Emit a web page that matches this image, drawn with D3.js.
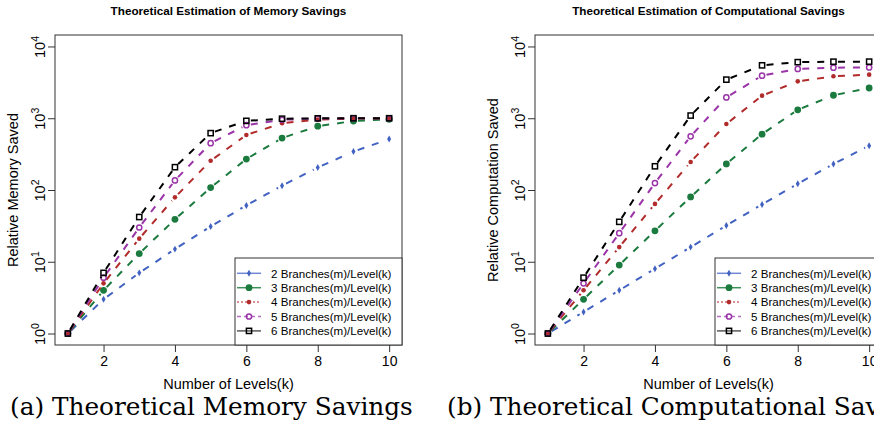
<!DOCTYPE html>
<html>
<head>
<meta charset="utf-8">
<script src="https://cdn.jsdelivr.net/npm/d3@7"></script>
<style>
  html, body { margin: 0; padding: 0; background: #ffffff; }
  svg { display: block; }
  text { font-family: "Liberation Sans", Arial, Helvetica, sans-serif; fill: #000; }
</style>
</head>
<body>
<svg id="chart" width="874" height="444"></svg>
<script>
// Number of levels k on the x axis
const levels = [1, 2, 3, 4, 5, 6, 7, 8, 9, 10];

// Relative memory saved, one array per branching factor m
const memSaved_m2 = [1, 3, 7, 15, 31, 61, 115, 206, 343, 512];
const memSaved_m3 = [1, 4, 13, 39, 108, 270, 530, 775, 915, 968];
const memSaved_m4 = [1, 5, 21, 79, 256, 585, 852, 956, 988, 997];
const memSaved_m5 = [1, 6, 30, 136, 450, 800, 952, 990, 998, 1000];
const memSaved_m6 = [1, 7, 42, 208, 620, 920, 985, 997, 1000, 1000];

// Relative computation saved, one array per branching factor m
const compSaved_m2 = [1, 2, 4, 8, 16, 32, 63, 122, 230, 415];
const compSaved_m3 = [1, 3, 9, 27, 80, 231, 600, 1310, 2090, 2640];
const compSaved_m4 = [1, 4, 16, 64, 246, 830, 2065, 3265, 3840, 4050];
const compSaved_m5 = [1, 5, 25, 125, 560, 1950, 3920, 4860, 5070, 5100];
const compSaved_m6 = [1, 6, 36, 214, 1090, 3450, 5460, 6050, 6140, 6150];

const seriesNames = [
  "2 Branches(m)/Level(k)",
  "3 Branches(m)/Level(k)",
  "4 Branches(m)/Level(k)",
  "5 Branches(m)/Level(k)",
  "6 Branches(m)/Level(k)"
];
const seriesColors = ["#4262c2", "#1b7a3e", "#b22b2b", "#9a34a8", "#000000"];
const legendLineColors = ["#7086d2", "#3f8f5a", "#d06a6a", "#b56cc0", "#5a5a5a"];
const legendLineDash = [null, null, "2,2", "4,3", null];
const markerKinds = ["diamond", "disc", "dot", "ring", "square"];

const xTickValues = [2, 4, 6, 8, 10];
const yTickExponents = [0, 1, 2, 3, 4];

const panels = [
  {
    title: "Theoretical Estimation of Memory Savings",
    yLabel: "Relative Memory Saved",
    xLabel: "Number of Levels(k)",
    caption: "(a) Theoretical Memory Savings",
    series: [memSaved_m2, memSaved_m3, memSaved_m4, memSaved_m5, memSaved_m6]
  },
  {
    title: "Theoretical Estimation of Computational Savings",
    yLabel: "Relative Computation Saved",
    xLabel: "Number of Levels(k)",
    caption: "(b) Theoretical Computational Savings",
    series: [compSaved_m2, compSaved_m3, compSaved_m4, compSaved_m5, compSaved_m6]
  }
];

const svg = d3.select("#chart");
svg.append("rect").attr("width", 874).attr("height", 444).attr("fill", "#fff");

const panelWidth = 480;
const plot = { left: 55, right: 402, top: 35, bottom: 345 };

// R-style axis ranges: 4% padding around the data range
const x = d3.scaleLinear().domain([1 - 0.36, 10 + 0.36]).range([plot.left, plot.right]);
const y = d3.scaleLog().domain([Math.pow(10, -0.16), Math.pow(10, 4.16)]).range([plot.bottom, plot.top]);

function drawMarker(g, kind, cx, cy, color) {
  if (kind === "diamond") {
    g.append("path")
      .attr("d", d3.symbol().type(d3.symbolDiamond).size(14)())
      .attr("transform", `translate(${cx},${cy})`)
      .attr("fill", color);
  } else if (kind === "disc") {
    g.append("circle").attr("cx", cx).attr("cy", cy).attr("r", 3.4).attr("fill", color);
  } else if (kind === "dot") {
    g.append("circle").attr("cx", cx).attr("cy", cy).attr("r", 2.3).attr("fill", color);
  } else if (kind === "ring") {
    g.append("circle").attr("cx", cx).attr("cy", cy).attr("r", 2.6)
      .attr("fill", "none").attr("stroke", color).attr("stroke-width", 1.5);
  } else if (kind === "square") {
    g.append("rect").attr("x", cx - 2.6).attr("y", cy - 2.6)
      .attr("width", 5.2).attr("height", 5.2)
      .attr("fill", "none").attr("stroke", color).attr("stroke-width", 1.5);
  }
}

panels.forEach((p, pi) => {
  const g = svg.append("g").attr("transform", `translate(${pi * panelWidth},0)`);

  // Series: dashed segments between points (type "b"), then markers
  p.series.forEach((vals, si) => {
    const sg = g.append("g");
    const pts = levels.map((k, i) => [x(k), y(vals[i])]);
    const gap = 4.5;
    for (let i = 0; i < pts.length - 1; i++) {
      const [x1, y1] = pts[i], [x2, y2] = pts[i + 1];
      const len = Math.hypot(x2 - x1, y2 - y1);
      if (len <= 2 * gap) continue;
      const ux = (x2 - x1) / len, uy = (y2 - y1) / len;
      sg.append("line")
        .attr("x1", x1 + ux * gap).attr("y1", y1 + uy * gap)
        .attr("x2", x2 - ux * gap).attr("y2", y2 - uy * gap)
        .attr("stroke", seriesColors[si])
        .attr("stroke-width", 2)
        .attr("stroke-dasharray", "7,8");
    }
    pts.forEach(([cx, cy]) => drawMarker(sg, markerKinds[si], cx, cy, seriesColors[si]));
  });

  // Frame
  g.append("rect")
    .attr("x", plot.left).attr("y", plot.top)
    .attr("width", plot.right - plot.left).attr("height", plot.bottom - plot.top)
    .attr("fill", "none").attr("stroke", "#333").attr("stroke-width", 1);

  // X axis
  const xAxis = g.append("g")
    .attr("transform", `translate(0,${plot.bottom})`)
    .call(d3.axisBottom(x).tickValues(xTickValues).tickSize(7).tickPadding(4).tickFormat(d3.format("d")));
  xAxis.select(".domain").remove();
  xAxis.selectAll(".tick line").attr("stroke", "#333");
  xAxis.selectAll(".tick text").attr("font-size", 14).attr("font-family", null);

  // Y axis with rotated 10^n labels
  const yAxis = g.append("g")
    .attr("transform", `translate(${plot.left},0)`)
    .call(d3.axisLeft(y).tickValues(yTickExponents.map(e => Math.pow(10, e))).tickSize(7));
  yAxis.select(".domain").remove();
  yAxis.selectAll(".tick line").attr("stroke", "#333");
  yAxis.selectAll(".tick text").each(function (d) {
    const t = d3.select(this);
    const e = Math.round(Math.log10(d));
    t.text(null)
      .attr("x", null).attr("dy", null)
      .attr("font-family", null)
      .attr("font-size", 14.5)
      .attr("text-anchor", "middle")
      .attr("transform", "translate(-10,0) rotate(-90)");
    t.append("tspan").text("10");
    t.append("tspan").attr("dy", -6.5).attr("font-size", 10.5).text(String(e));
  });

  // Title
  g.append("text")
    .attr("x", (plot.left + plot.right) / 2).attr("y", 15)
    .attr("text-anchor", "middle")
    .attr("font-weight", "bold")
    .attr("font-size", 11.7)
    .text(p.title);

  // Axis titles
  g.append("text")
    .attr("x", (plot.left + plot.right) / 2).attr("y", 389)
    .attr("text-anchor", "middle")
    .attr("font-size", 14.5)
    .text(p.xLabel);
  g.append("text")
    .attr("transform", `translate(${plot.left - 37},${(plot.top + plot.bottom) / 2}) rotate(-90)`)
    .attr("text-anchor", "middle")
    .attr("font-size", 14.5)
    .text(p.yLabel);

  // Legend, bottom-right inside the plot
  const lgW = 167, lgH = 87;
  const lg = g.append("g").attr("transform", `translate(${plot.right - lgW},${plot.bottom - lgH})`);
  lg.append("rect").attr("width", lgW).attr("height", lgH)
    .attr("fill", "#fff").attr("stroke", "#333").attr("stroke-width", 1);
  seriesNames.forEach((name, si) => {
    const ry = 15.3 + si * 14.4;
    lg.append("line")
      .attr("x1", 2).attr("x2", 26).attr("y1", ry).attr("y2", ry)
      .attr("stroke", legendLineColors[si]).attr("stroke-width", 1.5)
      .attr("stroke-dasharray", legendLineDash[si]);
    drawMarker(lg, markerKinds[si], 14, ry, seriesColors[si]);
    lg.append("text")
      .attr("x", 36).attr("y", ry + 4.2)
      .attr("font-size", 11.6)
      .text(name);
  });
});

// Sub-figure captions in a serif face
const captionStarts = [10, 447];
const captions = panels.map((p, pi) =>
  svg.append("text")
    .attr("x", captionStarts[pi]).attr("y", 415)
    .style("font-family", "'DejaVu Serif', 'Liberation Serif', serif")
    .attr("font-size", 20)
    .text(p.caption)
);
const natural = captions[0].node().getComputedTextLength();
const fs = 20 * 403 / natural;
captions.forEach(c => c.attr("font-size", fs));
</script>
</body>
</html>
